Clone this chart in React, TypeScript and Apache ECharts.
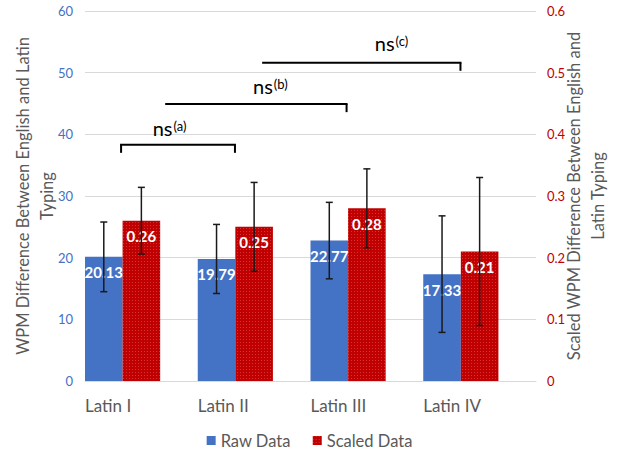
import React, { useEffect, useRef } from "react";
import * as echarts from "echarts";

const categories = ["Latin I", "Latin II", "Latin III", "Latin IV"];
const rawValues = [20.13, 19.79, 22.77, 17.33];
const rawErrors = [5.65, 5.6, 6.2, 9.45];
const scaledValues = [0.26, 0.25, 0.28, 0.21];
const scaledErrors = [0.054, 0.072, 0.064, 0.12];
const leftTicks = { min: 0, max: 60, interval: 10 };
const rightTicks = { min: 0, max: 0.6, interval: 0.1 };

// significance brackets: positions in category units (0 = centre of first category), heights in left-axis units
const bracketTags = ["a", "b", "c"];
const bracketStart = [-0.18, 0.22, 1.08];
const bracketEnd = [0.83, 1.82, 2.83];
const bracketLevel = [38.3, 44.9, 51.6];
const bracketLeftTick = [1, 0, 0];
const bracketRightTick = [1, 1, 1];
const bracketTextX = [0.1, 0.99, 2.07];
const bracketTextY = [41.0, 47.8, 54.8];

const FONT = "Lato, 'Open Sans', sans-serif";
const BLUE = "#4472C4";
const RED = "#C00000";
const GREY = "#595959";

function errorSeries(values: number[], errors: number[], yAxisIndex: number, offset: number) {
  return {
    type: "custom",
    xAxisIndex: 0,
    yAxisIndex,
    silent: true,
    z: 10,
    encode: { x: 0, y: [1, 2] },
    data: values.map((v, i) => [i, v - errors[i], v + errors[i]]),
    renderItem: (params: any, api: any) => {
      const i = api.value(0);
      const lo = api.coord([i, api.value(1)]);
      const hi = api.coord([i, api.value(2)]);
      const w = api.size([1, 0])[0];
      const x = lo[0] + offset * w;
      const cap = 3.5;
      const style = { stroke: "#1a1a1a", lineWidth: 1.5 };
      return {
        type: "group",
        children: [
          { type: "line", shape: { x1: x, y1: lo[1], x2: x, y2: hi[1] }, style },
          { type: "line", shape: { x1: x - cap, y1: hi[1], x2: x + cap, y2: hi[1] }, style },
          { type: "line", shape: { x1: x - cap, y1: lo[1], x2: x + cap, y2: lo[1] }, style },
        ],
      };
    },
  };
}

export default function App() {
  const ref = useRef<HTMLDivElement>(null);
  useEffect(() => {
    if (!ref.current) return;
    const chart = echarts.init(ref.current, null, { renderer: "svg" });
    const redDecal = {
      symbol: "rect",
      symbolSize: 1,
      color: "rgba(255,170,170,0.3)",
      dashArrayX: [1, 2],
      dashArrayY: [1, 2],
    };
    const bracketData = bracketTags.map((t, i) => [
      0,
      bracketStart[i],
      bracketEnd[i],
      bracketLevel[i],
      bracketLeftTick[i],
      bracketRightTick[i],
      bracketTextX[i],
      bracketTextY[i],
    ]);
    const option: any = {
      animation: false,
      textStyle: { fontFamily: FONT },
      grid: { left: 85, right: 83, top: 11, bottom: 69, containLabel: false, outerBoundsMode: "none" },
      legend: {
        data: ["Raw Data", "Scaled Data"],
        top: 432,
        left: "center",
        icon: "rect",
        itemWidth: 9,
        itemHeight: 9,
        itemGap: 22,
        padding: 0,
        textStyle: { fontSize: 16.5, color: GREY, fontFamily: FONT },
      },
      xAxis: [
        {
          type: "category",
          data: categories,
          axisLine: { lineStyle: { color: "#d9d9d9", width: 1 } },
          axisTick: { show: false },
          axisLabel: { show: false },
        },
        {
          type: "category",
          position: "bottom",
          boundaryGap: false,
          data: [...categories, ""],
          axisLine: { show: false },
          axisTick: { show: false },
          axisLabel: {
            align: "left",
            interval: 0,
            fontSize: 17,
            color: GREY,
            margin: 16,
            fontFamily: FONT,
          },
        },
      ],
      yAxis: [
        {
          type: "value",
          min: leftTicks.min,
          max: leftTicks.max,
          interval: leftTicks.interval,
          name: "WPM Difference Between English and Latin\nTyping",
          nameLocation: "middle",
          nameGap: 26,
          nameMoveOverlap: false,
          nameTextStyle: { fontSize: 16.5, color: GREY, lineHeight: 24, fontFamily: FONT },
          axisLine: { show: false },
          axisTick: { show: false },
          axisLabel: { color: BLUE, fontSize: 13, margin: 12, fontFamily: FONT },
          splitLine: { lineStyle: { color: "#d9d9d9", width: 1 } },
        },
        {
          type: "value",
          position: "right",
          min: rightTicks.min,
          max: rightTicks.max,
          interval: rightTicks.interval,
          name: "Scaled WPM Difference Between English and\nLatin Typing",
          nameLocation: "middle",
          nameGap: 26,
          nameRotate: 90,
          nameMoveOverlap: false,
          nameTextStyle: { fontSize: 16.5, color: GREY, lineHeight: 24, fontFamily: FONT },
          axisLine: { show: false },
          axisTick: { show: false },
          axisLabel: {
            color: RED,
            fontSize: 13,
            margin: 11,
            fontFamily: FONT,
            formatter: (v: number) => (v === 0 ? "0" : v.toFixed(1)),
          },
          splitLine: { show: false },
        },
      ],
      series: [
        {
          name: "Raw Data",
          type: "bar",
          xAxisIndex: 0,
          yAxisIndex: 0,
          data: rawValues,
          barGap: "0%",
          barCategoryGap: "0%",
          itemStyle: { color: BLUE },
          label: {
            show: true,
            position: "insideTop",
            distance: 8,
            color: "#fff",
            fontWeight: "bold",
            fontSize: 15,
            fontFamily: FONT,
            formatter: (p: any) => p.value.toFixed(2),
          },
        },
        {
          name: "Scaled Data",
          type: "bar",
          xAxisIndex: 0,
          yAxisIndex: 1,
          data: scaledValues,
          barGap: "0%",
          barCategoryGap: "0%",
          itemStyle: { color: RED, decal: redDecal },
          label: {
            show: true,
            position: "insideTop",
            distance: 8,
            color: "#fff",
            fontWeight: "bold",
            fontSize: 15,
            fontFamily: FONT,
            formatter: (p: any) => p.value.toFixed(2),
          },
        },
        {
          name: "_spacer",
          type: "bar",
          xAxisIndex: 0,
          yAxisIndex: 0,
          data: categories.map(() => "-"),
          barGap: "0%",
          barCategoryGap: "0%",
          silent: true,
          itemStyle: { color: "transparent" },
        },
        errorSeries(rawValues, rawErrors, 0, -1 / 3),
        errorSeries(scaledValues, scaledErrors, 1, 0),
        {
          type: "custom",
          xAxisIndex: 0,
          yAxisIndex: 0,
          silent: true,
          z: 11,
          encode: { x: 0, y: 3 },
          data: bracketData,
          renderItem: (params: any, api: any) => {
            const idx = params.dataIndex;
            const base = api.coord([0, api.value(3)]);
            const w = api.size([1, 0])[0];
            const x0 = base[0] + api.value(1) * w;
            const x1 = base[0] + api.value(2) * w;
            const y = base[1];
            const tickEnd = api.coord([0, api.value(3) - 1.3])[1];
            const style = { stroke: "#000", lineWidth: 2 };
            const children: any[] = [
              { type: "line", shape: { x1: x0 - 1, y1: y, x2: x1 + 1, y2: y }, style },
            ];
            if (api.value(4)) children.push({ type: "line", shape: { x1: x0, y1: y, x2: x0, y2: tickEnd }, style });
            if (api.value(5)) children.push({ type: "line", shape: { x1: x1, y1: y, x2: x1, y2: tickEnd }, style });
            const tp = api.coord([0, api.value(7)]);
            children.push({
              type: "text",
              x: base[0] + api.value(6) * w,
              y: tp[1],
              style: {
                text: "{n|ns}{s|(" + bracketTags[idx] + ")}",
                textAlign: "left",
                textVerticalAlign: "middle",
                rich: {
                  n: { fontSize: 20, fontFamily: FONT, fill: "#000", lineHeight: 24 },
                  s: { fontSize: 13, fontFamily: FONT, fill: "#000", padding: [0, 0, 4, 1] },
                },
              },
            });
            return { type: "group", children };
          },
        },
      ],
    };
    chart.setOption(option);
    return () => chart.dispose();
  }, []);
  return (
    <div
      ref={ref}
      style={{ position: "fixed", left: 0, top: 0, width: 619, height: 450, background: "#fff" }}
    />
  );
}
